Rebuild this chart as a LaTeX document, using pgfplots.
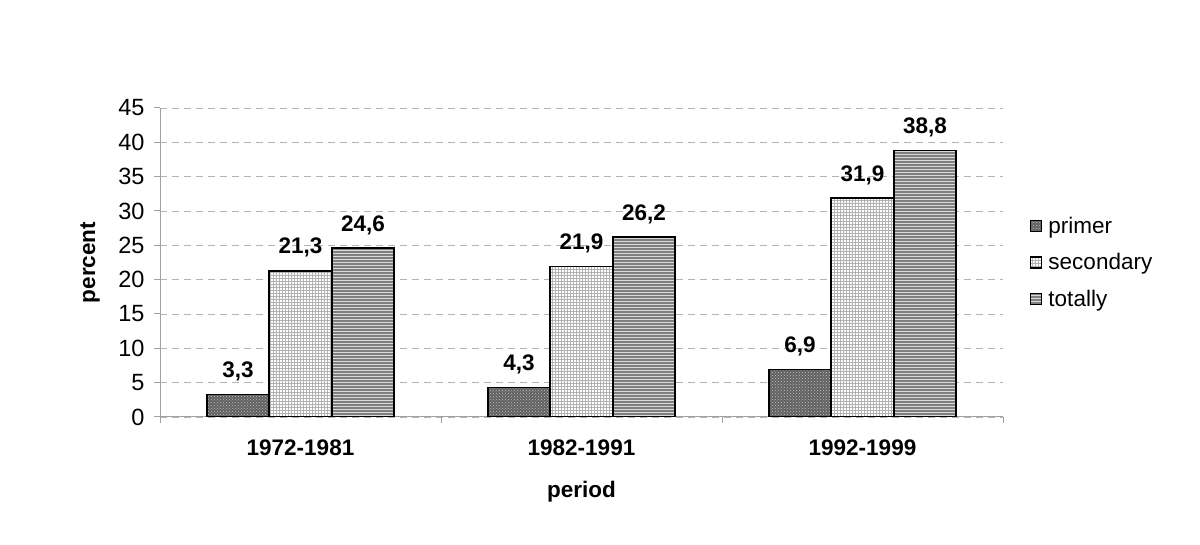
\documentclass[border=0pt]{standalone}
\usepackage{pgfplots}
\pgfplotsset{compat=1.18}
\usepackage{fontspec}
\setmainfont{Liberation Sans}
\usetikzlibrary{patterns}
\definecolor{axgray}{HTML}{A0A0A0}
\definecolor{gridgray}{HTML}{B4B4B4}
\begin{document}
\begin{tikzpicture}[x=1pt,y=1pt]
\path[use as bounding box] (0,0) rectangle (1200,545);
\begin{axis}[
  at={(160pt,128pt)}, anchor=south west,
  scale only axis, width=843pt, height=309pt,
  xmin=-0.5, xmax=2.5, ymin=0, ymax=45,
  ybar=0pt, bar width=62.5pt,
  axis x line*=bottom, axis y line*=left,
  axis line style={axgray, line width=1pt},
  tick align=outside,
  major tick length=6pt,
  tick style={axgray, line width=1pt},
  xtick={-0.5,0.5,1.5,2.5}, xticklabels={},
  extra x ticks={0,1,2},
  extra x tick labels={1972-1981,1982-1991,1992-1999},
  extra x tick style={major tick length=0pt, xticklabel style={font=\fontsize{22.5}{26}\selectfont\bfseries, yshift=-19pt}},
  ytick={0,5,...,45},
  ymajorgrids,
  grid style={gridgray, dash pattern=on 7pt off 5pt, line width=0.8pt},
  yticklabel style={font=\fontsize{23.5}{27}\selectfont, xshift=-6pt},
  /pgf/number format/assume math mode=true,
  ylabel={percent}, xlabel={period},
  every axis y label/.style={at={(axis description cs:-0.083,0.5)}, rotate=90, anchor=center, font=\fontsize{22.5}{26}\selectfont\bfseries},
  every axis x label/.style={at={(axis description cs:0.5,-0.243)}, anchor=center, font=\fontsize{22.5}{26}\selectfont\bfseries},
  nodes near coords,
  nodes near coords style={/pgf/number format/use comma, /pgf/number format/fixed, /pgf/number format/fixed zerofill, /pgf/number format/precision=1},
  every node near coord/.append style={font=\fontsize{22.5}{26}\selectfont\bfseries, text depth=0pt, inner sep=0pt, anchor=south, yshift=16pt, black},
  legend style={at={(1.032,0.5)}, anchor=west, draw=none, fill=none, inner sep=0pt,
    font=\fontsize{22.5}{26}\selectfont, row sep=19pt, nodes={inner sep=0pt, inner xsep=6pt}},
  legend cell align=left,
  legend image code/.code={\draw[#1, line width=1.3pt] (0pt,-5.5pt) rectangle (11pt,5.5pt);},
]
\addplot[draw=black, line width=1.6pt, fill=black!62, postaction={pattern=crosshatch dots, pattern color=black!25}]
  coordinates {(0,3.3) (1,4.3) (2,6.9)};
\addplot[draw=black, line width=1.6pt, fill=white, postaction={pattern=grid, pattern color=black!30}]
  coordinates {(0,21.3) (1,21.9) (2,31.9)};
\addplot[draw=black, line width=1.6pt, fill=black!50, postaction={pattern=horizontal lines, pattern color=white!85!black}]
  coordinates {(0,24.6) (1,26.2) (2,38.8)};
\legend{primer,secondary,totally}
\end{axis}
\end{tikzpicture}
\end{document}
